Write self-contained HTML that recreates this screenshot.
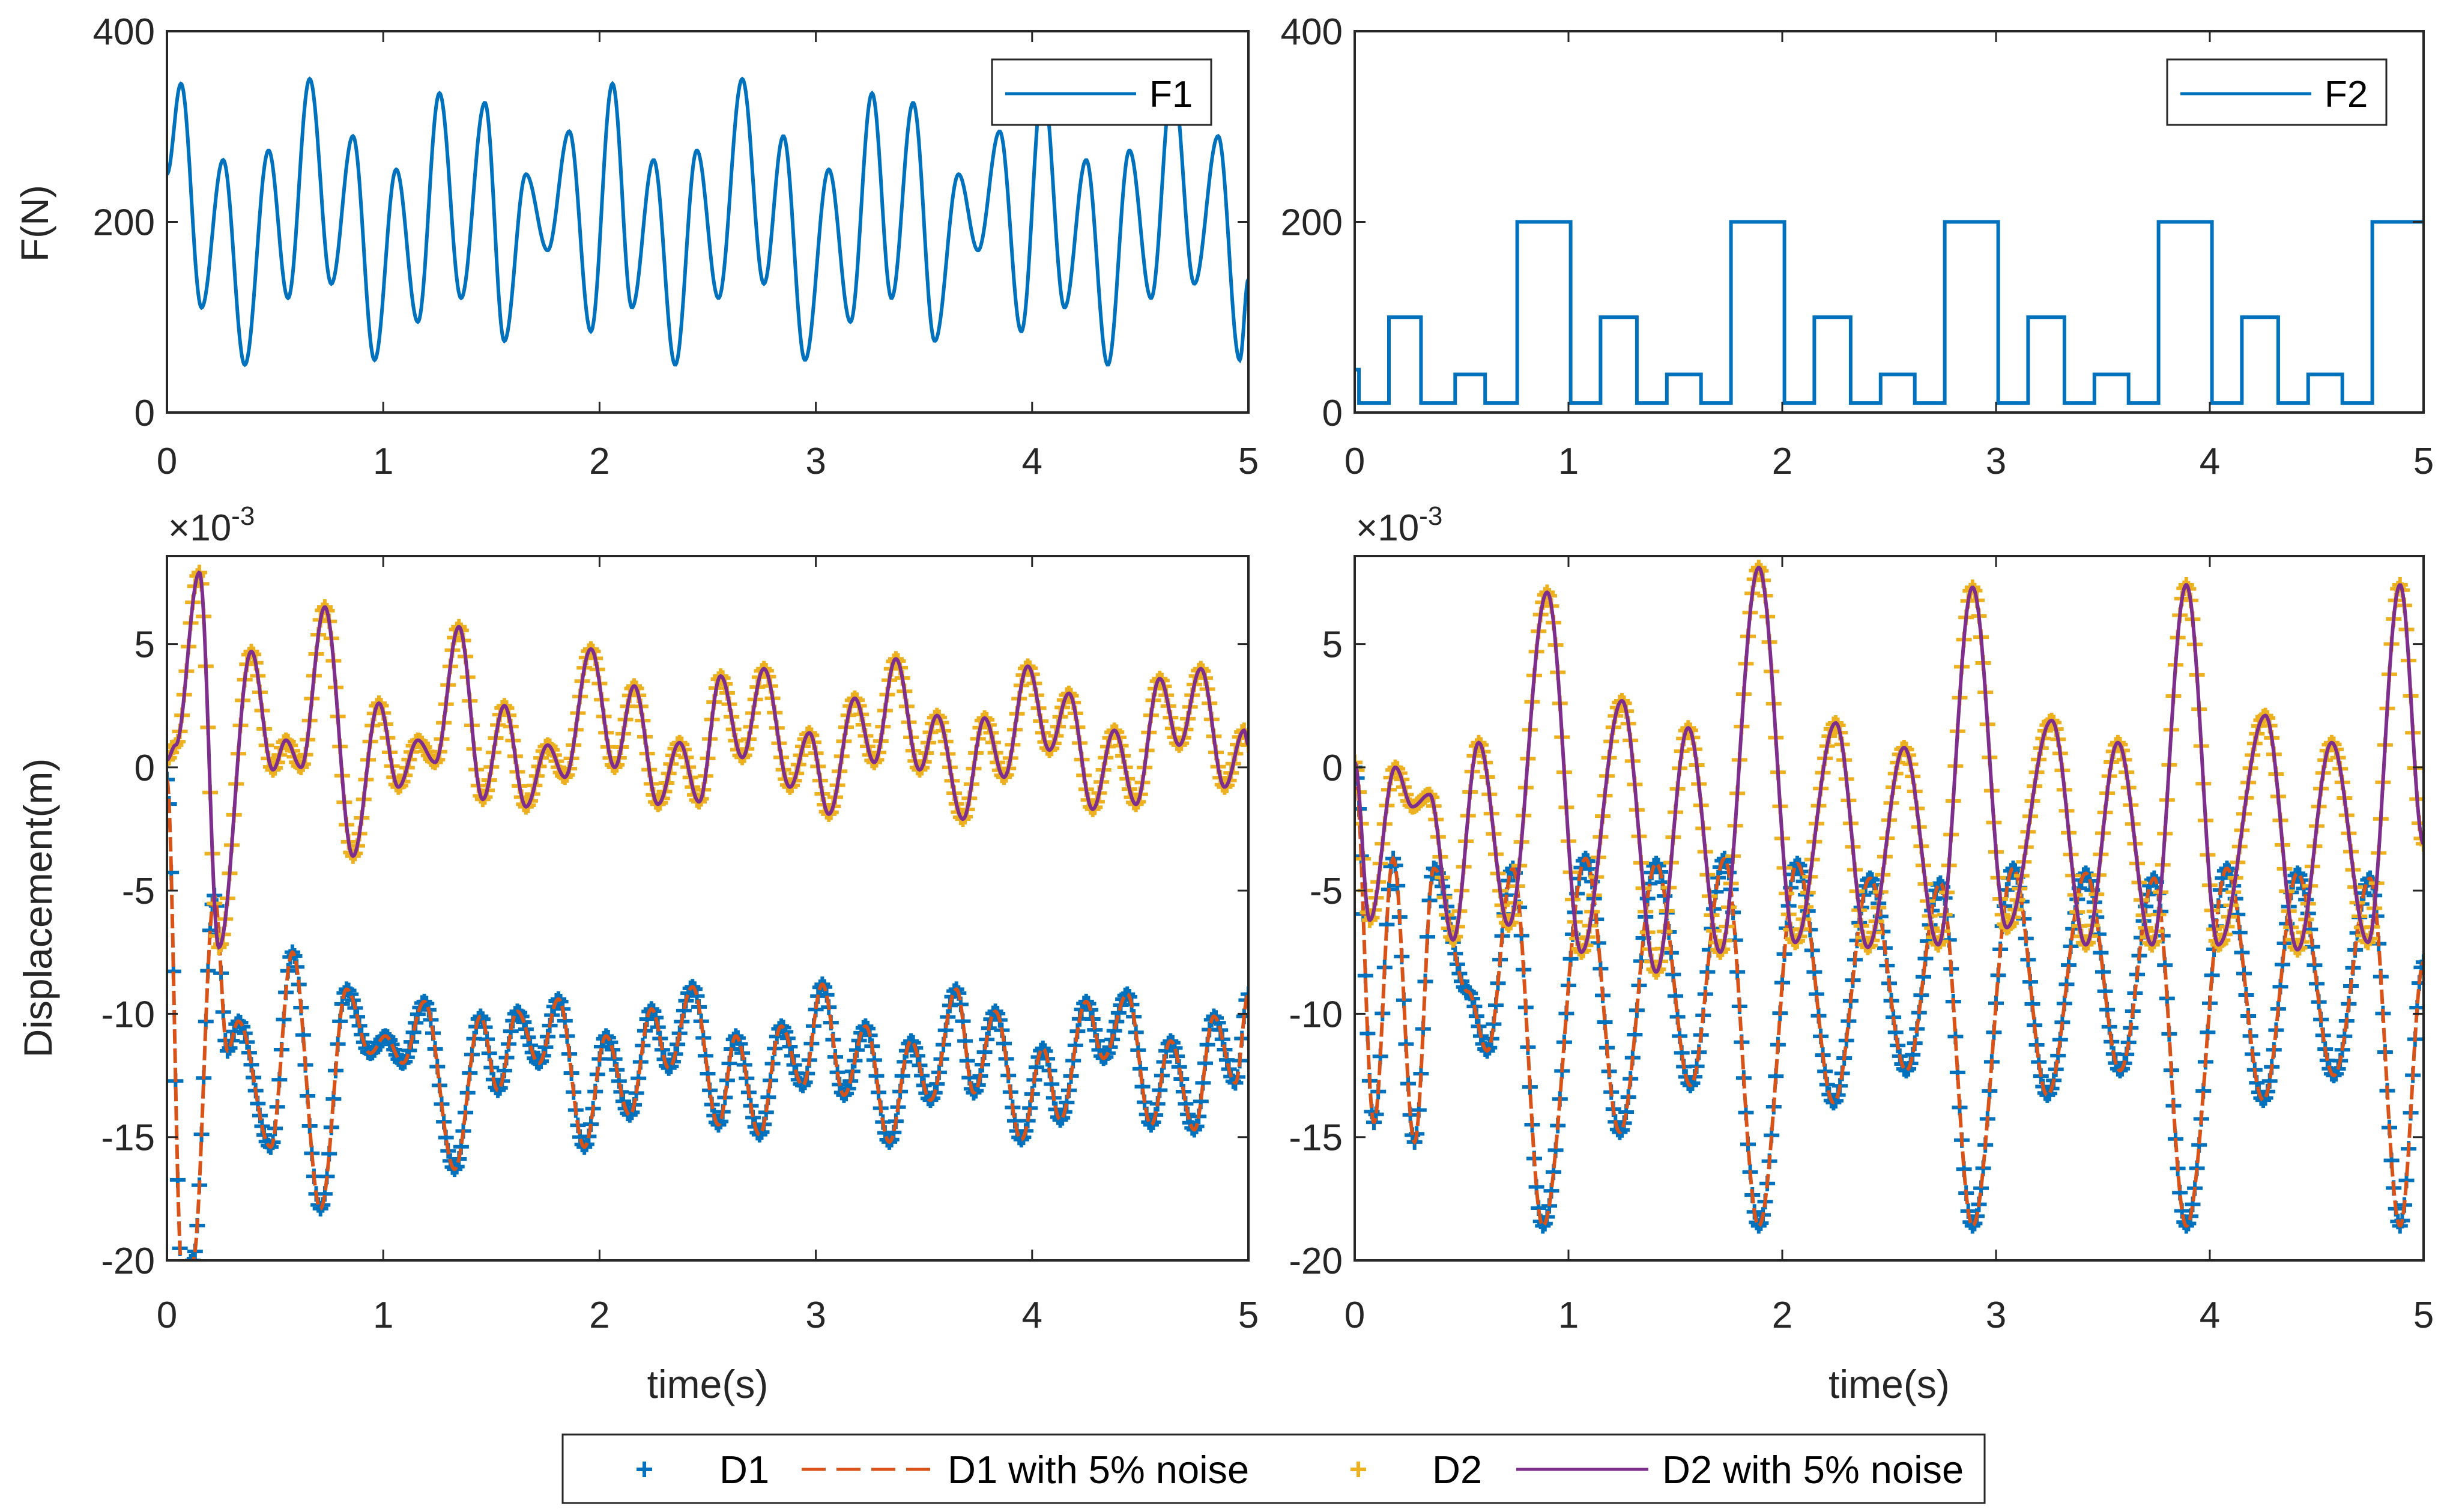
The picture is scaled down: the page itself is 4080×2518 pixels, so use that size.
<!DOCTYPE html>
<html><head><meta charset="utf-8"><style>
html,body{margin:0;padding:0;background:#fff;}
svg{display:block;font-family:"Liberation Sans",sans-serif;}
</style></head><body>
<svg id="chart" width="4080" height="2518" viewBox="0 0 4080 2518" xmlns="http://www.w3.org/2000/svg"></svg>
<script>
// ---------- data ----------
const xTicks = [0,1,2,3,4,5];
const fTicks = [0,200,400];
const dTicks = [-20,-15,-10,-5,0,5];
const dTickLabels = ["-20","-15","-10","-5","0","5"];
// F1 extrema (time, value)
const f1T = [0,0.065,0.16,0.26,0.36,0.47,0.56,0.66,0.76,0.86,0.96,1.06,1.16,1.26,1.36,1.47,1.56,1.66,1.76,1.86,1.96,2.06,2.15,2.25,2.35,2.45,2.55,2.66,2.76,2.85,2.95,3.06,3.16,3.26,3.35,3.45,3.55,3.66,3.75,3.85,3.95,4.05,4.15,4.25,4.35,4.45,4.55,4.65,4.75,4.86,4.96,5.0];
const f1V = [250,345,110,265,50,275,120,350,135,290,55,255,95,335,120,325,75,250,170,295,85,345,110,265,50,275,120,350,135,290,55,255,95,335,120,325,75,250,170,295,85,345,110,265,50,275,120,350,135,290,55,140];
// F2 step function: breakpoints and levels
const f2T = [0,0.02,0.16,0.31,0.47,0.61,0.76,1.01,1.15,1.32,1.46,1.62,1.76,2.01,2.15,2.32,2.46,2.62,2.76,3.01,3.15,3.32,3.46,3.62,3.76,4.01,4.15,4.32,4.46,4.62,4.76,5.0];
const f2V = [45,10,100,10,40,10,200,10,100,10,40,10,200,10,100,10,40,10,200,10,100,10,40,10,200,10,100,10,40,10,200,200];
// Left displacement (x1e-3)
const l1T = [0,0.07,0.12,0.22,0.28,0.33,0.48,0.58,0.71,0.83,0.94,1.01,1.09,1.19,1.33,1.45,1.53,1.62,1.72,1.81,1.93,2.03,2.14,2.24,2.32,2.43,2.55,2.63,2.74,2.84,2.94,3.03,3.13,3.23,3.34,3.44,3.53,3.65,3.73,3.83,3.95,4.05,4.13,4.25,4.33,4.44,4.55,4.64,4.75,4.84,4.94,5.0];
const l1V = [-0.5,-20.5,-20,-5.2,-11.5,-10.3,-15.4,-7.5,-17.9,-9,-11.6,-10.9,-12,-9.5,-16.3,-10.1,-13.1,-9.9,-12,-9.4,-15.4,-10.9,-14.1,-9.8,-12.2,-8.9,-14.5,-10.9,-14.9,-10.5,-12.9,-8.8,-13.3,-10.5,-15.2,-11.1,-13.5,-9,-13.2,-9.9,-15.1,-11.4,-14.3,-9.5,-11.8,-9.2,-14.5,-11.1,-14.7,-10.1,-12.8,-9.2];
const l2T = [0,0.04,0.15,0.24,0.39,0.49,0.55,0.62,0.73,0.86,0.98,1.07,1.16,1.24,1.35,1.46,1.56,1.66,1.76,1.84,1.96,2.07,2.16,2.27,2.37,2.46,2.56,2.66,2.76,2.88,2.97,3.06,3.18,3.27,3.37,3.48,3.56,3.68,3.78,3.87,3.98,4.08,4.17,4.28,4.38,4.48,4.59,4.68,4.78,4.89,4.98,5.0];
const l2V = [0.3,0.9,7.9,-7.3,4.7,-0.1,1.1,0,6.5,-3.6,2.6,-0.8,1.1,0.2,5.7,-1.3,2.5,-1.6,0.9,-0.4,4.8,0,3.3,-1.5,1.0,-1.4,3.7,0.4,4.0,-0.8,1.4,-1.9,2.8,0.2,4.4,-0.1,2.1,-2.1,2.0,-0.4,4.1,0.7,3.0,-1.7,1.5,-1.5,3.6,0.9,4.0,-0.8,1.5,0.9];
// Right displacement (x1e-3)
const r1T = [0,0.09,0.18,0.28,0.37,0.53,0.62,0.74,0.88,1.08,1.24,1.41,1.57,1.73,1.89,2.07,2.24,2.41,2.58,2.74,2.89,3.08,3.24,3.42,3.58,3.74,3.89,4.08,4.25,4.41,4.58,4.75,4.89,5.0];
const r1V = [0,-14.4,-3.7,-15.2,-4.1,-9.1,-11.5,-4.1,-18.6,-3.7,-14.8,-3.9,-12.9,-3.7,-18.6,-3.9,-13.6,-4.5,-12.3,-4.7,-18.6,-4.1,-13.3,-4.3,-12.3,-4.5,-18.6,-4.1,-13.5,-4.3,-12.5,-4.5,-18.6,-7.9];
const r2T = [0,0.07,0.19,0.27,0.35,0.46,0.58,0.72,0.9,1.06,1.25,1.41,1.56,1.71,1.89,2.06,2.25,2.4,2.57,2.73,2.89,3.05,3.26,3.42,3.57,3.73,3.89,4.04,4.26,4.41,4.57,4.74,4.89,5.0];
const r2V = [0.2,-6.2,0,-1.6,-1.1,-7,1,-6.4,7.1,-7.5,2.7,-8.3,1.6,-7.5,8.1,-7.1,1.8,-7.3,0.8,-7.2,7.3,-6.5,1.9,-7.2,1,-7.2,7.4,-7.2,2.1,-7.4,1,-7.1,7.4,-3.1];

// ---------- helpers ----------
const NS="http://www.w3.org/2000/svg";
const svg=document.getElementById('chart');
function mk(tag,attrs,parent){const e=document.createElementNS(NS,tag);for(const k in attrs)e.setAttribute(k,attrs[k]);(parent||svg).appendChild(e);return e;}
function interp(T,V,t){
  if(t<=T[0])return V[0];
  for(let i=0;i<T.length-1;i++){
    if(t<=T[i+1]){const u=(t-T[i])/(T[i+1]-T[i]);const w=(1-Math.cos(Math.PI*u))/2;return V[i]+(V[i+1]-V[i])*w;}
  }
  return V[V.length-1];
}
function makeAxes(name,x0,x1,y0,y1,ymin,ymax){
  const sx=t=>x0+(t-0)/(5-0)*(x1-x0);
  const sy=v=>y1-(v-ymin)/(ymax-ymin)*(y1-y0);
  const g=mk('g',{});
  
  
  const cid='clip-'+name;
  const cp=mk('clipPath',{id:cid},g);mk('rect',{x:x0,y:y0,width:x1-x0,height:y1-y0},cp);
  const plot=mk('g',{'clip-path':'url(#'+cid+')'},g);
  return {sx,sy,g,plot,x0,x1,y0,y1};
}
function drawFrame(ax,yt,ylabels,xlabOff){
  const g=ax.g;
  mk('rect',{x:ax.x0,y:ax.y0,width:ax.x1-ax.x0,height:ax.y1-ax.y0,fill:'none',stroke:'#262626','stroke-width':4},g);
  xTicks.forEach(t=>{
    const x=ax.sx(t);
    mk('line',{x1:x,x2:x,y1:ax.y1,y2:ax.y1-18,stroke:'#262626','stroke-width':3},g);
    mk('line',{x1:x,x2:x,y1:ax.y0,y2:ax.y0+18,stroke:'#262626','stroke-width':3},g);
    const tx=mk('text',{x:x,y:ax.y1+xlabOff,'font-size':62,'text-anchor':'middle',fill:'#262626'},g);
    tx.textContent=t;
    
    
  });
  yt.forEach((v,i)=>{
    const y=ax.sy(v);
    mk('line',{x1:ax.x0,x2:ax.x0+18,y1:y,y2:y,stroke:'#262626','stroke-width':3},g);
    mk('line',{x1:ax.x1,x2:ax.x1-18,y1:y,y2:y,stroke:'#262626','stroke-width':3},g);
    const tx=mk('text',{x:ax.x0-20,y:y+22,'font-size':62,'text-anchor':'end',fill:'#262626'},g);
    tx.textContent=ylabels[i];
    
    
  });
}
function linePath(ax,T,V,dt){
  let d='';
  for(let t=0;t<=5.0001;t+=dt){const v=interp(T,V,t);d+=(d?'L':'M')+ax.sx(t).toFixed(1)+' '+ax.sy(v).toFixed(1);}
  return d;
}
function plusPath(ax,T,V,dt,s){
  let d='';
  for(let t=0;t<=5.0001;t+=dt){const x=ax.sx(t),y=ax.sy(interp(T,V,t));d+='M'+(x-s).toFixed(1)+' '+y.toFixed(1)+'h'+(2*s)+'M'+x.toFixed(1)+' '+(y-s).toFixed(1)+'v'+(2*s);}
  return d;
}

// ---------- top-left F1 ----------
const a1=makeAxes('f1-axes',278,2079,52,687,0,400);
const p1=mk('path',{d:linePath(a1,f1T,f1V,0.004),fill:'none',stroke:'#0072BD','stroke-width':6},a1.plot);


drawFrame(a1,fTicks,fTicks.map(String),102);
// ---------- top-right F2 ----------
const a2=makeAxes('f2-axes',2256,4036,52,687,0,400);
let dF2='';
for(let i=0;i<f2T.length-1;i++){
  const xa=a2.sx(f2T[i]),xb=a2.sx(f2T[i+1]),y=a2.sy(f2V[i]);
  dF2+=(i?'L':'M')+xa.toFixed(1)+' '+y.toFixed(1)+'L'+xb.toFixed(1)+' '+y.toFixed(1);
}
const p2=mk('path',{d:dF2,fill:'none',stroke:'#0072BD','stroke-width':6},a2.plot);


drawFrame(a2,fTicks,fTicks.map(String),102);

// ---------- bottom panels ----------
function dispPanel(name,x0,x1,T1,V1,T2,V2){
  const ax=makeAxes(name,x0,x1,926,2099,-20,8.57);
  const m1=mk('path',{d:plusPath(ax,T1,V1,0.01,13),fill:'none',stroke:'#0072BD','stroke-width':6},ax.plot);
  
  
  const n1=mk('path',{d:linePath(ax,T1,V1,0.004),fill:'none',stroke:'#D95319','stroke-width':6,'stroke-dasharray':'24 8'},ax.plot);
  
  
  const m2=mk('path',{d:plusPath(ax,T2,V2,0.01,13),fill:'none',stroke:'#EDB120','stroke-width':6},ax.plot);
  
  
  const n2=mk('path',{d:linePath(ax,T2,V2,0.004),fill:'none',stroke:'#7E2F8E','stroke-width':6},ax.plot);
  
  
  drawFrame(ax,dTicks,dTickLabels,112);
  const ex=mk('text',{x:x0+2,y:900,'font-size':62,fill:'#262626'},ax.g);
  ex.innerHTML='×10<tspan dy="-26" font-size="44">-3</tspan>';
  
  
  const xl=mk('text',{x:(x0+x1)/2,y:2328,'font-size':66,'text-anchor':'middle',fill:'#262626'},ax.g);
  xl.textContent='time(s)';
  
  
  return ax;
}
dispPanel('left-displacement-axes',278,2079,l1T,l1V,l2T,l2V);
dispPanel('right-displacement-axes',2256,4036,r1T,r1V,r2T,r2V);

// y axis titles
const yt1=mk('text',{x:0,y:0,'font-size':64,'text-anchor':'middle',fill:'#262626',transform:'translate(80,372) rotate(-90)'});
yt1.textContent='F(N)';


const yt2=mk('text',{x:0,y:0,'font-size':66,'text-anchor':'middle',fill:'#262626',transform:'translate(86,1512) rotate(-90)'});
yt2.textContent='Displacement(m)';



// F legends
function smallLegend(name,x,label){
  const g=mk('g',{});
  
  
  mk('rect',{x:x,y:99,width:365,height:109,fill:'#fff',stroke:'#262626','stroke-width':3},g);
  mk('line',{x1:x+22,x2:x+240,y1:156,y2:156,stroke:'#0072BD','stroke-width':5},g);
  const t=mk('text',{x:x+262,y:178,'font-size':62,fill:'#000'},g);t.textContent=label;
}
smallLegend('f1-legend',1652,'F1');
smallLegend('f2-legend',3609,'F2');

// bottom legend
const lg=mk('g',{});


mk('rect',{x:937,y:2389,width:2368,height:114,fill:'#fff',stroke:'#262626','stroke-width':3},lg);
function plus(x,y,c){mk('path',{d:`M${x-13} ${y}h26M${x} ${y-13}v26`,stroke:c,'stroke-width':6,fill:'none'},lg);}
function ltxt(x,s,name){const t=mk('text',{x:x,y:2470,'font-size':65,fill:'#000'},lg);t.textContent=s;}
plus(1073,2447,'#0072BD');ltxt(1198,'D1','legend-entry-d1');
mk('line',{x1:1335,x2:1555,y1:2447,y2:2447,stroke:'#D95319','stroke-width':5,'stroke-dasharray':'40 18'},lg);
ltxt(1578,'D1 with 5% noise','legend-entry-d1-noise');
plus(2262,2447,'#EDB120');ltxt(2385,'D2','legend-entry-d2');
mk('line',{x1:2525,x2:2745,y1:2447,y2:2447,stroke:'#7E2F8E','stroke-width':5},lg);
ltxt(2768,'D2 with 5% noise','legend-entry-d2-noise');
</script>
</body></html>
